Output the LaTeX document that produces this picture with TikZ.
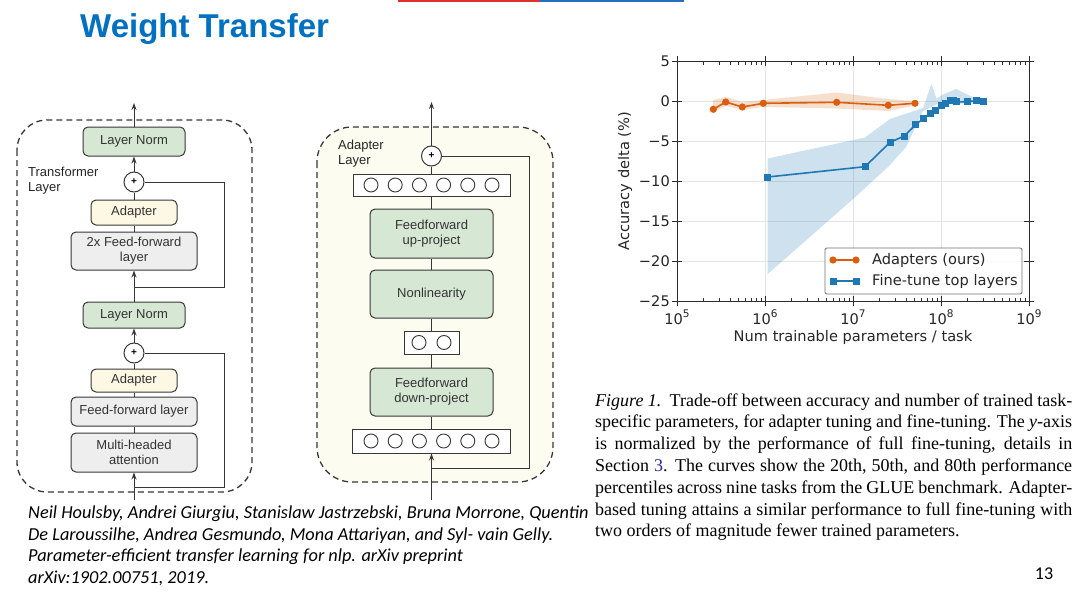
\documentclass[tikz,border=0pt]{standalone}
\usepackage{fontspec}
\setmainfont{Liberation Serif}
\setsansfont{Liberation Sans}
\newfontfamily\dvs{DejaVu Sans}
\newfontfamily\carl{Carlito}
\newfontfamily\ttlfont{Liberation Sans}
\usetikzlibrary{arrows.meta}
\definecolor{ttlblue}{RGB}{0,112,192}
\definecolor{boxdraw}{RGB}{55,55,55}
\definecolor{gfill}{RGB}{214,232,212}
\definecolor{yfill}{RGB}{253,248,228}
\definecolor{grfill}{RGB}{238,238,238}
\definecolor{bgfill}{RGB}{253,252,240}
\definecolor{orng}{RGB}{217,95,14}
\definecolor{blu}{RGB}{31,119,180}
\definecolor{gridc}{RGB}{228,228,228}
\definecolor{axc}{RGB}{45,45,45}
\definecolor{linkblue}{RGB}{40,40,150}
\definecolor{topred}{RGB}{220,50,50}
\definecolor{topblue}{RGB}{40,110,190}
\begin{document}
\begin{tikzpicture}[x=1pt,y=-1pt,
  blk/.style={draw=boxdraw, line width=1pt, rounded corners=5pt, font=\sffamily\fontsize{13}{15}\selectfont, text=black!80, align=center, inner sep=0pt},
  gbox/.style={blk, fill=gfill},
  ybox/.style={blk, fill=yfill},
  grbox/.style={blk, fill=grfill},
  sumnode/.style={circle, draw=boxdraw, line width=1pt, fill=white, minimum size=20pt, inner sep=0pt, font=\sffamily\fontsize{10}{10}\selectfont\bfseries},
  vecbox/.style={draw=boxdraw, line width=1pt, fill=white, inner sep=0pt},
  neuron/.style={circle, draw=boxdraw, line width=0.9pt, fill=white, minimum size=14pt, inner sep=0pt},
  conn/.style={draw=boxdraw, line width=1pt},
  arr/.style={conn, -{Stealth[length=7pt,width=5pt]}},
  dashbox/.style={draw=boxdraw, line width=1.3pt, dash pattern=on 6pt off 4pt},
  lbl/.style={font=\sffamily\fontsize{13}{15}\selectfont, text=black!85, align=left, anchor=west, inner sep=0pt},
  plotfont/.style={font=\dvs\fontsize{14.6}{16}\selectfont, text=black!85, inner sep=0pt},
  capline/.style={anchor=base west, inner sep=0pt, font=\fontsize{18}{22}\selectfont},
  citeline/.style={anchor=base west, inner sep=0pt, font=\carl\itshape\fontsize{18.3}{21}\selectfont},
  oline/.style={draw=orng, line width=1.6pt},
  bline/.style={draw=blu, line width=1.6pt}
]
\useasboundingbox (0,0) rectangle (1080,597);
\fill[white] (0,0) rectangle (1080,597);

% top bar and title
\draw[topred, line width=2pt] (398,1) -- (540,1);
\draw[topblue, line width=2pt] (540,1) -- (684,1);
\node[anchor=base west, inner sep=0pt, text=ttlblue, font=\ttlfont\bfseries\fontsize{33}{37}\selectfont] (title) at (80,37) {Weight Transfer};

% ---------------- Transformer layer ----------------
\draw[dashbox, rounded corners=30pt] (17,120) rectangle (252,492);
\node[lbl] (tl) at (28,180.5) {Transformer\\Layer};
\node[gbox, minimum width=102pt, minimum height=29pt] (ln1) at (134,141.5) {Layer Norm};
\node[sumnode] (p1) at (134,182) {+};
\node[ybox, minimum width=86pt, minimum height=25pt] (ad1) at (134,212.5) {Adapter};
\node[grbox, minimum width=126pt, minimum height=38pt] (ff2) at (134,251) {2x Feed-forward\\layer};
\node[gbox, minimum width=102pt, minimum height=26pt] (ln2) at (134,315) {Layer Norm};
\node[sumnode] (p2) at (134,353) {+};
\node[ybox, minimum width=86pt, minimum height=23pt] (ad2) at (134,380.5) {Adapter};
\node[grbox, minimum width=126pt, minimum height=29pt] (ff1) at (134,411.5) {Feed-forward layer};
\node[grbox, minimum width=126pt, minimum height=39pt] (mha) at (134,452.5) {Multi-headed\\attention};
\coordinate (tout) at (134,103);
\coordinate (tin) at (134,500);
\coordinate (j1) at (134,287);
\coordinate (r1) at (224,287);
\coordinate (j2) at (134,487);
\coordinate (r2) at (224,487);
\draw[arr] (ln1) -- (tout);
\draw[arr] (p1) -- (ln1);
\draw[conn] (ad1) -- (p1);
\draw[conn] (ff2) -- (ad1);
\draw[arr] (ln2) -- (ff2);
\draw[arr] (p2) -- (ln2);
\draw[conn] (ad2) -- (p2);
\draw[conn] (ff1) -- (ad2);
\draw[conn] (mha) -- (ff1);
\draw[arr] (tin) -- (mha);
\draw[conn] (p1.east) -| (r1) -- (j1);
\draw[conn] (p2.east) -| (r2) -- (j2);

% ---------------- Adapter layer ----------------
\draw[dashbox, fill=bgfill, rounded corners=35pt] (317,127) rectangle (553,482);
\node[lbl] (al) at (338,154) {Adapter\\Layer};
\node[sumnode] (p3) at (431.5,156) {+};
\node[vecbox, minimum width=157pt, minimum height=22pt] (va) at (431.5,185) {};
\foreach \k in {-2.5,-1.5,-0.5,0.5,1.5,2.5} \node[neuron] at (431.5+24.2*\k,185) {};
\node[gbox, minimum width=123pt, minimum height=49pt] (up) at (431.5,233.5) {Feedforward\\up-project};
\node[gbox, minimum width=123pt, minimum height=48pt] (nl) at (431.5,294) {Nonlinearity};
\node[vecbox, minimum width=55pt, minimum height=23pt] (vm) at (431.5,342.5) {};
\foreach \k in {-0.5,0.5} \node[neuron] at (431.5+25*\k,342.5) {};
\node[gbox, minimum width=123pt, minimum height=48pt] (dn) at (431.5,392) {Feedforward\\down-project};
\node[vecbox, minimum width=158pt, minimum height=24pt] (vb) at (431.5,441) {};
\foreach \k in {-2.5,-1.5,-0.5,0.5,1.5,2.5} \node[neuron] at (431.5+24.2*\k,441) {};
\coordinate (aout) at (431.5,102);
\coordinate (ain) at (431.5,500);
\coordinate (j3) at (431.5,468);
\coordinate (r3) at (529,468);
\draw[arr] (p3) -- (aout);
\draw[conn] (va) -- (p3);
\draw[conn] (up) -- (va);
\draw[conn] (nl) -- (up);
\draw[conn] (vm) -- (nl);
\draw[conn] (dn) -- (vm);
\draw[conn] (vb) -- (dn);
\draw[arr] (ain) -- (vb);
\draw[conn] (p3.east) -| (r3) -- (j3);

% ---------------- Plot ----------------
% grid
\foreach \gx in {765,853,941} \draw[gridc, line width=0.8pt] (\gx,61) -- (\gx,301);
\foreach \gy in {101,141,181,221,261} \draw[gridc, line width=0.8pt] (677,\gy) -- (1029,\gy);
% bands
\fill[orng, opacity=0.2] (713,100) -- (726,97) -- (742,102) -- (763,100) -- (837,92.5) -- (888,99) -- (915,101)
  -- (915,105.5) -- (888,111) -- (837,108.5) -- (763,107) -- (742,110) -- (726,106) -- (713,112) -- cycle;
\fill[blu, opacity=0.22] (767.7,158.5) -- (865,137.5) -- (890,119) -- (923,108) -- (931.5,84) -- (936.5,99) -- (942,95) -- (956,89) -- (970,96) -- (983,100)
  -- (983,103) -- (953,104) -- (937,104) -- (923,111) -- (906,147) -- (890,165) -- (852,200) -- (767.7,274) -- cycle;
% series
\draw[oline] plot coordinates {(713.3,109.3) (725.7,102) (742.3,107) (763.3,103.3) (836.7,102.3) (888.3,105.3) (915,103.3)};
\foreach \p in {(713.3,109.3),(725.7,102),(742.3,107),(763.3,103.3),(836.7,102.3),(888.3,105.3),(915,103.3)}
  \fill[orng] \p circle (3.6pt);
\draw[bline] plot coordinates {(767.7,177) (865,166.7) (890,142.3) (904.3,136) (915.7,124.7) (923.5,118.3) (930,113.3) (935.5,110) (941.5,105) (945,103.3) (950,100.7) (953.3,100.9) (956.7,101.9) (967.3,101.7) (976,100.7) (983.3,101.1)};
\foreach \p in {(767.7,177),(865,166.7),(890,142.3),(904.3,136),(915.7,124.7),(923.5,118.3),(930,113.3),(935.5,110),(941.5,105),(945,103.3),(950,100.7),(953.3,100.9),(956.7,101.9),(967.3,101.7),(976,100.7),(983.3,101.1)}
  \fill[blu] \p ++(-3.5,-3.5) rectangle ++(7,7);
% frame and ticks
\draw[axc, line width=1pt] (677,61) rectangle (1029,301);
\foreach \d in {677,765,853,941} \foreach \m in {26.5,42,53,61.5,68.5,74.4,79.5,84} {
  \draw[axc, line width=0.7pt] (\d+\m,301) -- ++(0,-3.5);
  \draw[axc, line width=0.7pt] (\d+\m,61) -- ++(0,3.5);
}
\foreach \d in {677,765,853,941,1029} {
  \draw[axc, line width=0.9pt] (\d,296) -- (\d,306);
  \draw[axc, line width=0.9pt] (\d,56) -- (\d,66);
}
\foreach \gy in {61,101,141,181,221,261,301} {
  \draw[axc, line width=0.9pt] (672,\gy) -- (682,\gy);
  \draw[axc, line width=0.9pt] (1024,\gy) -- (1034,\gy);
}
% tick labels
\foreach \v/\gy in {5/61,0/101,−5/141,−10/181,−15/221,−20/261,−25/301}
  \node[plotfont, anchor=east] at (670,\gy) {\v};
\foreach \e/\gx in {5/677,6/765,7/853,8/941,9/1029}
  \node[plotfont] at (\gx,317) {10\raisebox{0.5em}{\fontsize{10.5}{11}\selectfont\e}};
\node[plotfont] (xlab) at (853,337) {Num trainable parameters / task};
\node[plotfont, rotate=90] (ylab) at (625,181) {Accuracy delta (\%)};
% legend
\node[draw=black!55, line width=0.8pt, fill=white, fill opacity=0.85, rounded corners=2pt, minimum width=197pt, minimum height=46pt, inner sep=0pt] (leg) at (923.5,271) {};
\draw[oline] (833,260) -- (856,260);
\fill[orng] (833,260) circle (3.6pt);
\fill[orng] (856,260) circle (3.6pt);
\draw[bline] (833,281) -- (856,281);
\fill[blu] (829.5,277.5) rectangle ++(7,7);
\fill[blu] (852.5,277.5) rectangle ++(7,7);
\node[plotfont, anchor=west] (lega) at (872,260) {Adapters (ours)};
\node[plotfont, anchor=west] (legb) at (872,281) {Fine-tune top layers};

% ---------------- Caption ----------------
\node[capline] (c1) at (595,406) {\hbox to 477pt{\textit{Figure 1.}\ \ Trade-off between accuracy and number of trained task-}};
\node[capline] (c2) at (595,427.8) {\hbox to 477pt{specific parameters, for adapter tuning and fine-tuning. The \textit{y}-axis}};
\node[capline] (c3) at (595,449.6) {\hbox to 477pt{is normalized by the performance of full fine-tuning, details in}};
\node[capline] (c4) at (595,471.4) {\hbox to 477pt{Section {\color{linkblue}3}. The curves show the 20th, 50th, and 80th performance}};
\node[capline] (c5) at (595,493.2) {\hbox to 477pt{percentiles across nine tasks from the GLUE benchmark. Adapter-}};
\node[capline] (c6) at (595,515) {\hbox to 477pt{based tuning attains a similar performance to full fine-tuning with}};
\node[capline] (c7) at (595,536.8) {two orders of magnitude fewer trained parameters.};

% ---------------- Citation ----------------
\node[citeline] (r1t) at (28,518) {Neil Houlsby, Andrei Giurgiu, Stanislaw Jastrzebski, Bruna Morrone, Quentin};
\node[citeline] (r2t) at (28,540) {De Laroussilhe, Andrea Gesmundo, Mona Attariyan, and Syl- vain Gelly.};
\node[citeline] (r3t) at (28,561.5) {Parameter-efficient transfer learning for nlp. arXiv preprint};
\node[citeline] (r4t) at (28,583) {arXiv:1902.00751, 2019.};

\node[font=\carl\fontsize{18}{20}\selectfont, inner sep=0pt] (pg) at (1044,574) {13};
\end{tikzpicture}
\end{document}
